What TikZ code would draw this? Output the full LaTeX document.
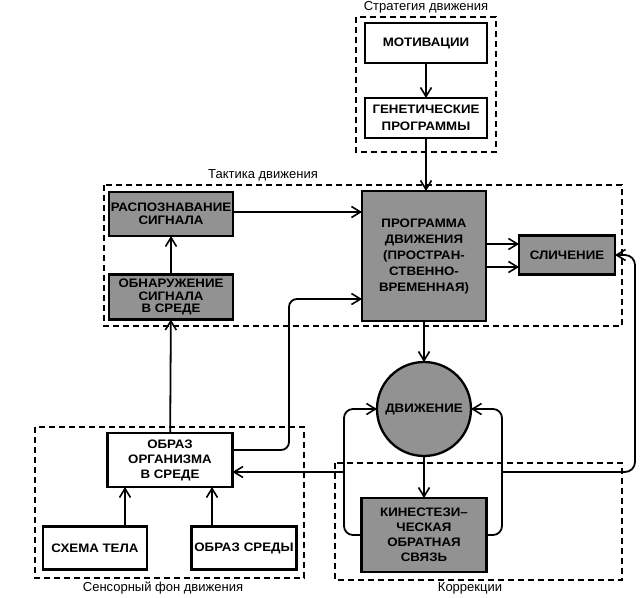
\documentclass[tikz,border=0pt]{standalone}
\usepackage{fontspec}
\setmainfont{Liberation Sans}
\newfontfamily\boxfont[FakeStretch=1.08]{Liberation Sans}
\usetikzlibrary{arrows.meta,calc}
\definecolor{boxgray}{HTML}{929292}
\tikzset{
  blk/.style={draw=black, line width=2.3pt, inner sep=1pt, outer sep=0pt, align=center,
    font=\boxfont\bfseries\fontsize{12.3}{13}\selectfont},
  wbox/.style={blk, fill=white},
  gbox/.style={blk, fill=boxgray},
  grp/.style={draw=black, dashed, dash pattern=on 6pt off 4pt, line width=1.2pt},
  grplabel/.style={font=\fontsize{13}{15}\selectfont, inner sep=0pt},
  arr/.style={line width=1.8pt, -{Straight Barb[length=9pt,width=11pt,line width=1.6pt]}},
}
\begin{document}
\begin{tikzpicture}[x=1pt,y=-1pt]
\useasboundingbox (0,0) rectangle (644,597);

% group frames
\draw[grp] (356,17) rectangle (496,152);
\node[grplabel] (lstrat) at (426,7) {Стратегия движения};
\draw[grp] (104,185) rectangle (622,326);
\node[grplabel] (ltact) at (263,175) {Тактика движения};
\draw[grp] (35,427) rectangle (304,578);
\node[grplabel] (lsens) at (163,588) {Сенсорный фон движения};
\draw[grp] (335,463) rectangle (622,580);
\node[grplabel] (lcorr) at (470,588) {Коррекции};

% nodes
\node[wbox, minimum width=122pt, minimum height=40pt] (mot) at (426,43) {МОТИВАЦИИ};
\node[wbox, minimum width=122pt, minimum height=40pt, font=\boxfont\bfseries\fontsize{12.3}{17}\selectfont] (gen) at (426,118) {ГЕНЕТИЧЕСКИЕ\\ПРОГРАММЫ};
\node[gbox, minimum width=124pt, minimum height=130pt, font=\boxfont\bfseries\fontsize{12.3}{16}\selectfont] (prog) at (424,256)
  {ПРОГРАММА\\ДВИЖЕНИЯ\\(ПРОСТРАН-\\СТВЕННО-\\ВРЕМЕННАЯ)};
\node[gbox, minimum width=124pt, minimum height=44pt] (rasp) at (171,214) {РАСПОЗНАВАНИЕ\\СИГНАЛА};
\node[gbox, minimum width=124pt, minimum height=45pt, font=\boxfont\bfseries\fontsize{12.3}{12.5}\selectfont] (obn) at (171,297) {ОБНАРУЖЕНИЕ\\СИГНАЛА\\В СРЕДЕ};
\node[gbox, minimum width=96pt, minimum height=39pt] (slich) at (567,255) {СЛИЧЕНИЕ};
\node[gbox, circle, minimum size=94pt, inner sep=0pt] (move) at (424,409) {ДВИЖЕНИЕ};
\node[gbox, minimum width=125pt, minimum height=74pt, font=\boxfont\bfseries\fontsize{12.3}{15}\selectfont] (kin) at (424,535) {КИНЕСТЕЗИ–\\ЧЕСКАЯ\\ОБРАТНАЯ\\СВЯЗЬ};
\node[wbox, minimum width=125pt, minimum height=54pt, font=\boxfont\bfseries\fontsize{12.3}{15}\selectfont] (obraz) at (170,460) {ОБРАЗ\\ОРГАНИЗМА\\В СРЕДЕ};
\node[wbox, minimum width=104pt, minimum height=43pt] (schema) at (95,548) {СХЕМА ТЕЛА};
\node[wbox, minimum width=105pt, minimum height=43pt] (sreda) at (244,548) {ОБРАЗ\hspace{4pt}СРЕДЫ};

% helper coordinates
\coordinate (lx) at (344,0);
\coordinate (rx) at (502,0);
\coordinate (fx) at (635,0);
\coordinate (cx) at (289,0);
\coordinate (ax) at (125,0);
\coordinate (bx) at (212,0);
\coordinate (s1) at ([yshift=11pt]slich.west);
\coordinate (s2) at ([yshift=-12pt]slich.west);
\coordinate (o1) at ([yshift=10pt]obraz.east);
\coordinate (o2) at ([yshift=-12pt]obraz.east);
\coordinate (p1) at ([yshift=-43pt]prog.west);
\coordinate (r1) at ([yshift=2pt]rasp.east);

% connectors
\draw[arr] (mot) -- (gen);
\draw[arr] (gen.south) -- (gen.south |- prog.north);
\draw[arr] (r1) -- (r1 -| prog.west);
\draw[arr] (obn) -- (rasp);
\draw[arr] (s1 -| prog.east) -- (s1);
\draw[arr] (s2 -| prog.east) -- (s2);
\draw[arr] (obraz) -- (obn);
\draw[arr] (ax |- schema.north) -- (ax |- obraz.south);
\draw[arr] (bx |- sreda.north) -- (bx |- obraz.south);
\draw[arr, rounded corners=8pt] (o1) -| (cx |- p1) -- (p1);
\draw[arr] (prog) -- (move);
\draw[arr] (move) -- (kin);
\draw[arr, rounded corners=9pt] (kin.west) -| (lx |- move.west) -- (move.west);
\draw[arr, rounded corners=9pt] (kin.east) -| (rx |- move.east) -- (move.east);
\draw[arr] (lx |- o2) -- (o2);
\draw[arr, rounded corners=10pt] (rx |- o2) -| (fx |- slich.east) -- (slich.east);
\end{tikzpicture}
\end{document}
